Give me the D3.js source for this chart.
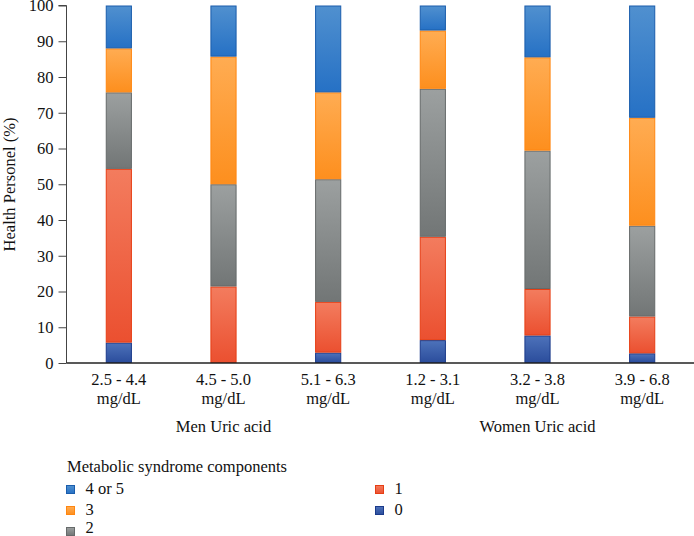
<!DOCTYPE html>
<html>
<head>
<meta charset="utf-8">
<script src="https://cdn.jsdelivr.net/npm/d3@7"></script>
<style>
  html, body { margin: 0; padding: 0; background: #fff; }
  svg { display: block; font-family: "Liberation Serif", "DejaVu Serif", serif; }
</style>
</head>
<body>
<svg id="chart" width="694" height="536"></svg>
<script>
// ---- data ----
const categories = ["2.5 - 4.4", "4.5 - 5.0", "5.1 - 6.3", "1.2 - 3.1", "3.2 - 3.8", "3.9 - 6.8"];
const unitLabel = "mg/dL";
const groupNames = ["Men Uric acid", "Women Uric acid"];
const groupMembers = [[0, 1, 2], [3, 4, 5]];
const seriesNames = ["0", "1", "2", "3", "4 or 5"];
const s0 = [5.7, 0, 2.9, 6.4, 7.7, 2.7];
const s1 = [48.6, 21.4, 14.2, 28.9, 13.0, 10.3];
const s2 = [21.4, 28.6, 34.3, 41.4, 38.7, 25.4];
const s3 = [12.3, 35.7, 24.3, 16.3, 26.1, 30.2];
const s45 = [12.0, 14.3, 24.3, 7.0, 14.5, 31.4];
const yTicks = [0, 10, 20, 30, 40, 50, 60, 70, 80, 90, 100];
const yTitle = "Health Personel (%)";
const legendTitle = "Metabolic syndrome components";

// ---- styles ----
const FS = 16.5;
const palette = {
  "0":      {top: "#4d72ba", bot: "#2b4d9c", stroke: "#1b3a8a"},
  "1":      {top: "#f37c5e", bot: "#eb5030", stroke: "#e63e14"},
  "2":      {top: "#9ca0a0", bot: "#727676", stroke: "#666a6a"},
  "3":      {top: "#ffac52", bot: "#fd8f1e", stroke: "#ff8610"},
  "4 or 5": {top: "#5090cf", bot: "#2671c5", stroke: "#1a5dac"}
};

const svg = d3.select("#chart");
const defs = svg.append("defs");
seriesNames.forEach((s, i) => {
  const g = defs.append("linearGradient").attr("id", "grad" + i)
    .attr("x1", 0).attr("y1", 0).attr("x2", 0).attr("y2", 1);
  g.append("stop").attr("offset", "0%").attr("stop-color", palette[s].top);
  g.append("stop").attr("offset", "100%").attr("stop-color", palette[s].bot);
});

const x = d3.scaleBand().domain(categories).range([66.5, 694.5]).paddingInner(0.75).paddingOuter(0.375);
const y = d3.scaleLinear().domain([0, 100]).range([363, 5.5]);

const rows = categories.map((c, i) => ({cat: c, "0": s0[i], "1": s1[i], "2": s2[i], "3": s3[i], "4 or 5": s45[i]}));
const stacked = d3.stack().keys(seriesNames)(rows);

// bars
stacked.forEach((layer, li) => {
  const key = layer.key;
  svg.append("g").selectAll("rect")
    .data(layer.filter(d => d[1] - d[0] > 0))
    .join("rect")
    .attr("x", d => x(d.data.cat) + 0.5)
    .attr("width", x.bandwidth() - 1)
    .attr("y", d => y(d[1]) + 0.5)
    .attr("height", d => Math.max(0, y(d[0]) - y(d[1]) - 1))
    .attr("fill", "url(#grad" + li + ")")
    .attr("stroke", palette[key].stroke)
    .attr("stroke-width", 1);
});

// y axis
const yAxis = d3.axisLeft(y).tickValues(yTicks).tickSize(8).tickPadding(5);
const yg = svg.append("g").attr("transform", "translate(66.5,0)").call(yAxis);
yg.select(".domain").attr("stroke", "#444").attr("d", "M-8," + y(100) + "H0V" + y(0));
yg.selectAll(".tick line").attr("stroke", "#444");
yg.selectAll(".tick text").attr("font-size", FS).attr("fill", "#111")
  .attr("font-family", "Liberation Serif, serif");

// x axis
const xAxis = d3.axisBottom(x).tickSize(0).tickFormat(() => "");
const xg = svg.append("g").attr("transform", "translate(0,363)").call(xAxis);
xg.select(".domain").attr("stroke", "#222").attr("stroke-width", 1.4).attr("d", "M66.5,0H694");

// category labels
const lab = svg.append("g").attr("font-size", FS).attr("fill", "#111").attr("text-anchor", "middle");
categories.forEach(c => {
  const cx = x(c) + x.bandwidth() / 2;
  lab.append("text").attr("x", cx).attr("y", 385).text(c);
  lab.append("text").attr("x", cx).attr("y", 404).text(unitLabel);
});
groupNames.forEach((g, gi) => {
  const mid = categories[groupMembers[gi][1]];
  lab.append("text").attr("x", x(mid) + x.bandwidth() / 2).attr("y", 432).text(g);
});

// y title
svg.append("text").attr("transform", "translate(15,184.5) rotate(-90)")
  .attr("text-anchor", "middle").attr("font-size", FS).attr("fill", "#111").text(yTitle);

// legend
const leg = svg.append("g").attr("font-size", FS).attr("fill", "#111");
leg.append("text").attr("x", 67).attr("y", 472).text(legendTitle);
const legendOrder = ["4 or 5", "3", "2", "1", "0"];
legendOrder.forEach((s, i) => {
  const col = i < 3 ? 0 : 1;
  const row = i < 3 ? i : i - 3;
  const lx = col === 0 ? 66.5 : 375.5;
  const ly = 485.5 + row * 21;
  const gi = seriesNames.indexOf(s);
  leg.append("rect").attr("x", lx).attr("y", ly).attr("width", 8).attr("height", 8)
    .attr("fill", "url(#grad" + gi + ")").attr("stroke", palette[s].stroke).attr("stroke-width", 1);
  leg.append("text").attr("x", lx + 19).attr("y", Math.min(ly + 8.5, 533)).text(s);
});
</script>
</body>
</html>
